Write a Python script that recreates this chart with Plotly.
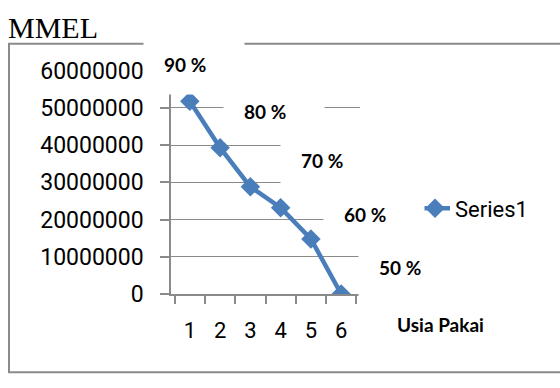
import plotly.graph_objects as go

# Usia pakai (years of use) and the MMEL value for each year
usia = ["1", "2", "3", "4", "5", "6"]
nilai = [51800000, 39300000, 28800000, 23200000, 14800000, 0]

# Percentage labels placed beside the curve
persen = ["90 %", "80 %", "70 %", "60 %", "50 %"]
persen_pos = [(143, 22), (223, 72), (280, 125), (323, 183), (358, 240)]  # pixel left/top of each label box

W, H = 560, 388
BLUE = "#4a7ebb"
GRID = "#8a8a8a"


def px(x):
    return x / W


def py(y):
    return 1 - y / H


fig = go.Figure()
fig.add_trace(go.Scatter(
    x=usia, y=nilai, name="Series1", mode="lines+markers",
    line=dict(color=BLUE, width=4.5),
    marker=dict(symbol="diamond", size=15, color=BLUE),
))

annotations = [
    dict(text="MMEL", x=px(6), y=py(36), xref="paper", yref="paper",
         xanchor="left", yanchor="bottom", showarrow=False,
         font=dict(family="Liberation Serif", size=30, color="black")),
    dict(text="<b>Usia Pakai</b>", x=px(395), y=py(335), xref="paper", yref="paper",
         xanchor="left", yanchor="middle", showarrow=False,
         font=dict(family="Lato", size=19, color="black")),
]
for lab, (bx, by) in zip(persen, persen_pos):
    annotations.append(dict(
        text=f"<b>{lab}</b>", x=px(bx), y=py(by), xref="paper", yref="paper",
        xanchor="left", yanchor="top", showarrow=False, align="left",
        width=60, height=20, borderpad=20, bgcolor="white",
        font=dict(family="Lato", size=19, color="black"),
    ))

# Outer chart border
shapes = [dict(type="rect", xref="paper", yref="paper",
               x0=px(9), x1=px(W + 20), y0=py(386), y1=py(33),
               line=dict(color=GRID, width=2), layer="below")]

fig.update_layout(
    width=W, height=H, margin=dict(l=0, r=0, t=0, b=0),
    paper_bgcolor="white", plot_bgcolor="white",
    showlegend=True,
    legend=dict(x=px(415), y=py(210), xanchor="left", yanchor="middle",
                font=dict(family="Roboto", size=22, color="black"),
                bgcolor="rgba(0,0,0,0)"),
    xaxis=dict(domain=[px(171), px(360)], type="category",
               showgrid=False, showline=True, linecolor=GRID, linewidth=1.5,
               ticks="outside", tickson="boundaries", ticklen=8, tickcolor=GRID,
               tickwidth=1.5, ticklabelstandoff=16,
               tickfont=dict(family="Roboto", size=22, color="black")),
    yaxis=dict(domain=[py(302), py(62)], range=[0, 60000000], dtick=10000000,
               tickformat="d", showgrid=True, gridcolor=GRID, gridwidth=1.3,
               showline=True, linecolor=GRID, linewidth=1.5, zeroline=False,
               ticks="outside", ticklen=9, tickcolor=GRID, tickwidth=1.5,
               ticklabelstandoff=12,
               tickfont=dict(family="Roboto", size=23, color="black")),
    annotations=annotations,
    shapes=shapes,
)

fig.write_html("out.html")
